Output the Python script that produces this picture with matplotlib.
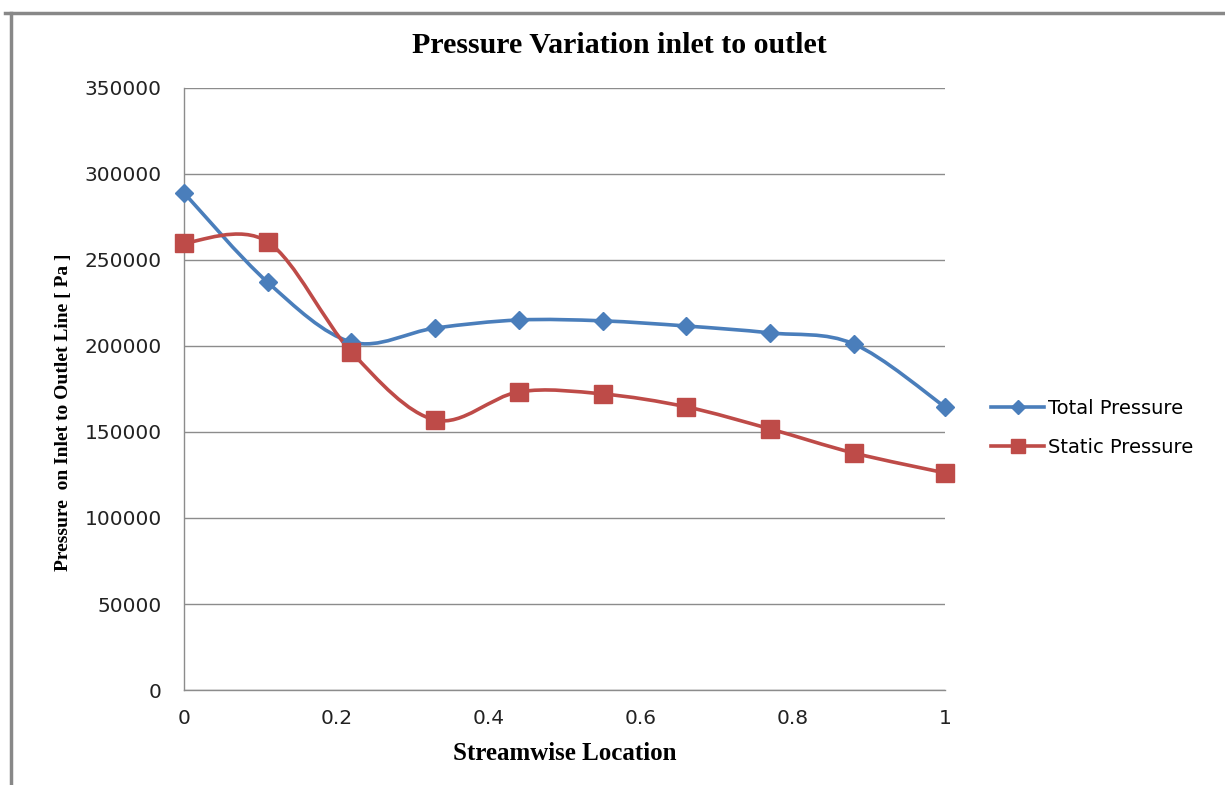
import matplotlib
matplotlib.use("Agg")
import matplotlib.pyplot as plt
import numpy as np
from matplotlib.path import Path
from matplotlib.patches import PathPatch
from matplotlib.lines import Line2D

location = [0, 0.11, 0.22, 0.33, 0.44, 0.55, 0.66, 0.77, 0.88, 1.0]
total_pressure = [289000, 237000, 202300, 210400, 215100, 214600, 211600, 207600, 201200, 164600]
static_pressure = [259900, 260500, 196500, 157000, 173300, 172100, 164600, 151800, 137800, 126200]

BLUE = "#4A7EBB"
RED = "#BE4B48"
GRID = "#8C8C8C"


def smooth_path(x, y):
    # excel style smoothed line: cubic bezier through every point
    x = np.asarray(x, float)
    y = np.asarray(y, float)
    n = len(x)
    verts = [(x[0], y[0])]
    codes = [Path.MOVETO]
    for i in range(n - 1):
        p0 = max(i - 1, 0)
        p3 = min(i + 2, n - 1)
        c1 = (x[i] + (x[i + 1] - x[p0]) / 6, y[i] + (y[i + 1] - y[p0]) / 6)
        c2 = (x[i + 1] - (x[p3] - x[i]) / 6, y[i + 1] - (y[p3] - y[i]) / 6)
        verts += [c1, c2, (x[i + 1], y[i + 1])]
        codes += [Path.CURVE4] * 3
    return Path(verts, codes)


fig = plt.figure(figsize=(12.25, 7.85), dpi=100)
ax = fig.add_axes([0.1502, 0.121, 0.6212, 0.767])

for ys, col, mk, ms in [(total_pressure, BLUE, "D", 9), (static_pressure, RED, "s", 13)]:
    ax.add_patch(PathPatch(smooth_path(location, ys), fill=False, edgecolor=col, lw=2.6, zorder=3))
    ax.plot(location, ys, linestyle="none", marker=mk, ms=ms, color=col, zorder=4, clip_on=False)

ax.set_xlim(0, 1)
ax.set_ylim(0, 350000)
ax.set_xticks([0, 0.2, 0.4, 0.6, 0.8, 1])
ax.set_xticklabels(["0", "0.2", "0.4", "0.6", "0.8", "1"])
ax.set_yticks(np.arange(0, 350001, 50000))
ax.set_yticklabels([str(v) for v in range(0, 350001, 50000)])
ax.tick_params(length=0, labelsize=14.5, labelcolor="#222222")
ax.tick_params(axis="y", pad=16)
ax.tick_params(axis="x", pad=14)
for lab in ax.get_xticklabels() + ax.get_yticklabels():
    lab.set_family("DejaVu Sans")
ax.grid(axis="y", color=GRID, lw=1)
ax.set_axisbelow(True)
for s in ["top", "right"]:
    ax.spines[s].set_visible(False)
for s in ["left", "bottom"]:
    ax.spines[s].set_color(GRID)
    ax.spines[s].set_linewidth(1)

serif = {"family": "Liberation Serif", "weight": "bold"}
fig.text(0.506, 0.942, "Pressure Variation inlet to outlet", ha="center", va="center", fontsize=21.5, **serif)
ax.set_xlabel("Streamwise Location", fontsize=18, labelpad=10, **serif)
ax.set_ylabel("Pressure  on Inlet to Outlet Line [ Pa ]", fontsize=14, **serif)
ax.yaxis.set_label_coords(-0.147, 0.462)

handles = [Line2D([], [], color=BLUE, lw=2.6, marker="D", ms=7),
           Line2D([], [], color=RED, lw=2.6, marker="s", ms=10)]
fig.legend(handles, ["Total Pressure", "Static Pressure"], loc="center left",
           bbox_to_anchor=(0.795, 0.455), frameon=False,
           handlelength=2.7, handletextpad=0.2, labelspacing=1.05,
           prop={"family": "DejaVu Sans", "size": 14})

# chart frame lines
fig.add_artist(Line2D([0.004, 1.0], [0.983, 0.983], color="#888888", lw=2.5, transform=fig.transFigure))
fig.add_artist(Line2D([0.009, 0.009], [0.0, 0.983], color="#888888", lw=2.5, transform=fig.transFigure))

fig.savefig("out.png", dpi=100)
